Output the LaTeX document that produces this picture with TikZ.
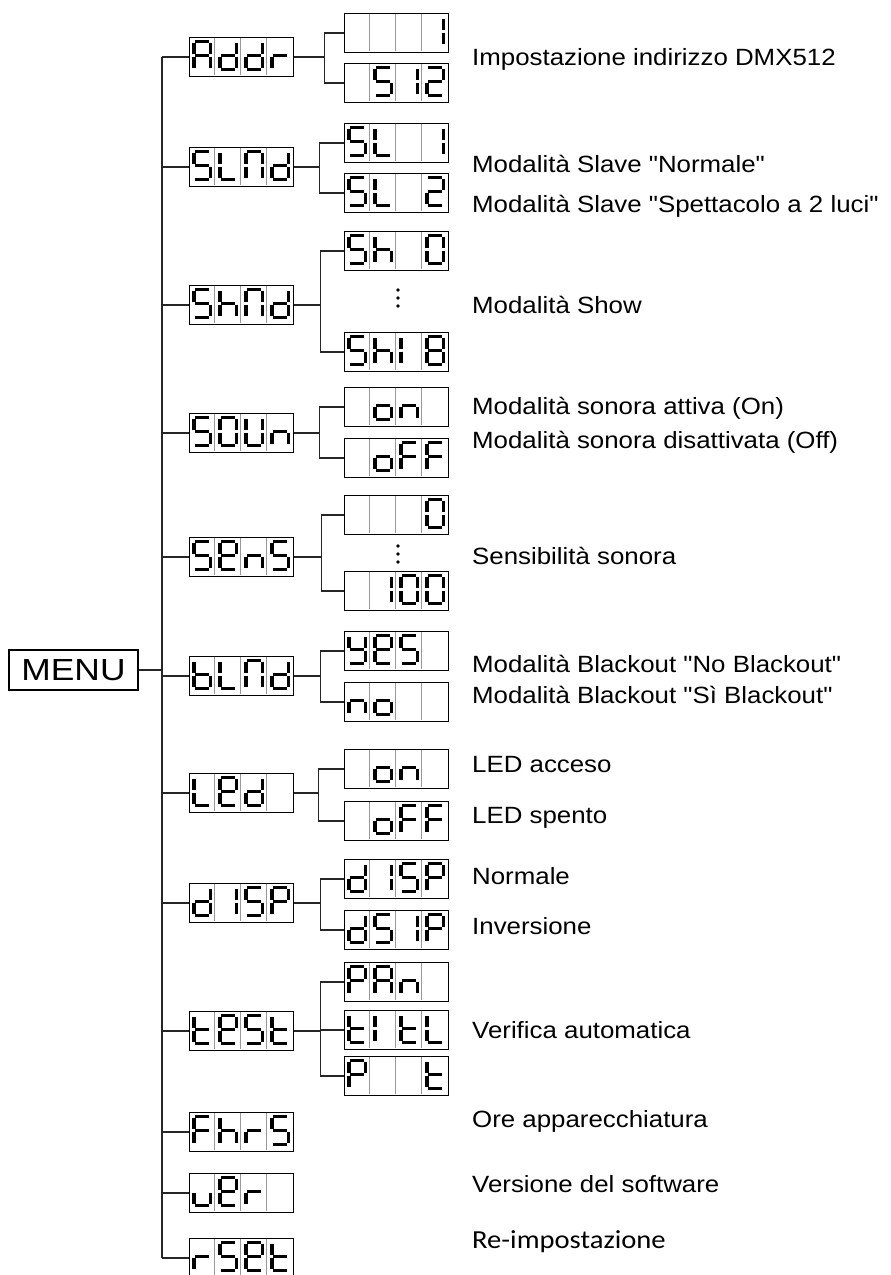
\documentclass[tikz,border=0pt]{standalone}
\usepackage{fontspec}
\setmainfont{Liberation Sans}
\newfontfamily\lblfont[FakeStretch=1.1]{Liberation Sans}
\newfontfamily\lblcfont[FakeStretch=1.1]{Carlito}
\newfontfamily\menufont[FakeStretch=1.16]{Liberation Sans}

\tikzset{
  disp/.style={rectangle, draw=black, line width=1.3pt, minimum width=104pt, minimum height=39pt, inner sep=0pt},
  divl/.style={draw=black!40, line width=0.9pt},
  segl/.style={line width=3.5pt, black, line cap=butt},
  conn/.style={draw=black!85, line width=1.3pt},
  lbl/.style={anchor=base west, inner sep=0pt, font=\lblfont\fontsize{23.5}{28}\selectfont},
  lblc/.style={anchor=base west, inner sep=0pt, font=\lblcfont\fontsize{26}{30}\selectfont},
  dot/.style={fill=black},
}

% seven segment pieces (cell 26 x 39, y downwards)
\newcommand\sga[1]{\draw[segl] ({#1+6.5},4.5) -- ({#1+20},4.5);}
\newcommand\sgb[1]{\draw[segl] ({#1+21.5},6) -- ({#1+21.5},17.2);}
\newcommand\sgc[1]{\draw[segl] ({#1+21.5},19.8) -- ({#1+21.5},31);}
\newcommand\sgd[1]{\draw[segl] ({#1+6.5},32.5) -- ({#1+20},32.5);}
\newcommand\sge[1]{\draw[segl] ({#1+5},19.8) -- ({#1+5},31);}
\newcommand\sgf[1]{\draw[segl] ({#1+5},6) -- ({#1+5},17.2);}
\newcommand\sgg[1]{\draw[segl] ({#1+6.5},18.5) -- ({#1+20},18.5);}
\newcommand\sgz[1]{}

\newcommand\cellglyph[2]{\foreach \s in #2 {\csname sg\s\endcsname{#1}}}
\newcommand\dispcells[5]{%
  \begin{scope}[shift={(#1.north west)}]
    \draw[divl] (26,0.7) -- (26,38.3) (52,0.7) -- (52,38.3) (78,0.7) -- (78,38.3);
    \cellglyph{0}{#2}\cellglyph{26}{#3}\cellglyph{52}{#4}\cellglyph{78}{#5}
  \end{scope}}

\def\Gz{z}
\def\GA{a,b,c,e,f,g}
\def\Gd{b,c,d,e,g}
\def\Gr{e,g}
\def\GS{a,f,g,c,d}
\def\GL{f,e,d}
\def\GN{a,b,c,e,f}
\def\Gh{f,e,g,c}
\def\GO{a,b,c,d,e,f}
\def\Geight{a,b,c,d,e,f,g}
\def\Gi{b,c}
\def\Gj{e,f}
\def\GT{a,b,g,e,d}
\def\Go{c,d,e,g}
\def\Gn{c,e,g}
\def\GF{a,f,g,e}
\def\GU{b,c,d,e,f}
\def\Ge{a,b,d,e,f,g}
\def\Gb{f,e,d,c,g}
\def\Gy{b,c,d,f,g}
\def\GP{a,b,f,g,e}
\def\Gt{f,e,d,g}
\def\Gu{c,d,e}

\begin{document}
\begin{tikzpicture}[x=1pt,y=-1pt]
\useasboundingbox (0,0) rectangle (891,1275);

% MENU
\node[rectangle, draw=black, line width=1.3pt, minimum width=129pt, minimum height=40pt, inner sep=0pt] (menu) at (73.5,670) {\menufont\fontsize{30.5}{31}\selectfont MENU};

% level 1
\node[disp] (addr) at (241.5,57) {};
\node[disp] (slnd) at (241.5,167) {};
\node[disp] (shnd) at (241.5,305) {};
\node[disp] (soun) at (241.5,433) {};
\node[disp] (sens) at (241.5,557) {};
\node[disp] (blnd) at (241.5,676) {};
\node[disp] (led)  at (241.5,793) {};
\node[disp] (disp) at (241.5,903) {};
\node[disp] (test) at (241.5,1031) {};
\node[disp] (fhrs) at (241.5,1132) {};
\node[disp] (uer)  at (241.5,1193) {};
\node[disp] (rset) at (241.5,1258) {};

\dispcells{addr}{\GA}{\Gd}{\Gd}{\Gr}
\dispcells{slnd}{\GS}{\GL}{\GN}{\Gd}
\dispcells{shnd}{\GS}{\Gh}{\GN}{\Gd}
\dispcells{soun}{\GS}{\GO}{\GU}{\Gn}
\dispcells{sens}{\GS}{\Ge}{\Gn}{\GS}
\dispcells{blnd}{\Gb}{\GL}{\GN}{\Gd}
\dispcells{led}{\GL}{\Ge}{\Gd}{\Gz}
\dispcells{disp}{\Gd}{\Gi}{\GS}{\GP}
\dispcells{test}{\Gt}{\Ge}{\GS}{\Gt}
\dispcells{fhrs}{\GF}{\Gh}{\Gr}{\GS}
\dispcells{uer}{\Gu}{\Ge}{\Gr}{\Gz}
\dispcells{rset}{\Gr}{\GS}{\Ge}{\Gt}

% level 2
\node[disp] (addr1) at (396.5,33) {};
\node[disp] (addr2) at (396.5,83) {};
\node[disp] (sl1)   at (396.5,143) {};
\node[disp] (sl2)   at (396.5,193) {};
\node[disp] (sh0)   at (396.5,251) {};
\node[disp] (sh8)   at (396.5,352) {};
\node[disp] (son)   at (396.5,407) {};
\node[disp] (soff)  at (396.5,458) {};
\node[disp] (sz)    at (396.5,515) {};
\node[disp] (shun)  at (396.5,591) {};
\node[disp] (byes)  at (396.5,651) {};
\node[disp] (bno)   at (396.5,702) {};
\node[disp] (lon)   at (396.5,769) {};
\node[disp] (loff)  at (396.5,821) {};
\node[disp] (dnorm) at (396.5,879) {};
\node[disp] (dinv)  at (396.5,930) {};
\node[disp] (pan)   at (396.5,982) {};
\node[disp] (titl)  at (396.5,1030) {};
\node[disp] (pt)    at (396.5,1076) {};

\dispcells{addr1}{\Gz}{\Gz}{\Gz}{\Gi}
\dispcells{addr2}{\Gz}{\GS}{\Gi}{\GT}
\dispcells{sl1}{\GS}{\GL}{\Gz}{\Gi}
\dispcells{sl2}{\GS}{\GL}{\Gz}{\GT}
\dispcells{sh0}{\GS}{\Gh}{\Gz}{\GO}
\dispcells{sh8}{\GS}{\Gh}{\Gj}{\Geight}
\dispcells{son}{\Gz}{\Go}{\Gn}{\Gz}
\dispcells{soff}{\Gz}{\Go}{\GF}{\GF}
\dispcells{sz}{\Gz}{\Gz}{\Gz}{\GO}
\dispcells{shun}{\Gz}{\Gi}{\GO}{\GO}
\dispcells{byes}{\Gy}{\Ge}{\GS}{\Gz}
\dispcells{bno}{\Gn}{\Go}{\Gz}{\Gz}
\dispcells{lon}{\Gz}{\Go}{\Gn}{\Gz}
\dispcells{loff}{\Gz}{\Go}{\GF}{\GF}
\dispcells{dnorm}{\Gd}{\Gi}{\GS}{\GP}
\dispcells{dinv}{\Gd}{\GS}{\Gi}{\GP}
\dispcells{pan}{\GP}{\GA}{\Gn}{\Gz}
\dispcells{titl}{\Gt}{\Gj}{\Gt}{\GL}
\dispcells{pt}{\GP}{\Gz}{\Gz}{\Gt}

% vertical dots
\fill[dot] (398,290) circle (1.8) (398,298) circle (1.8) (398,306) circle (1.8);
\fill[dot] (398,546) circle (1.8) (398,554) circle (1.8) (398,562) circle (1.8);

% trunk
\coordinate (trunk) at (162,0);
\draw[conn] (menu.east) -- (trunk |- menu.east);
\draw[conn] (trunk |- addr.west) -- (trunk |- rset.west);
\foreach \n in {addr,slnd,shnd,soun,sens,blnd,led,disp,test,fhrs,uer,rset}
  \draw[conn] (trunk |- \n.west) -- (\n.west);

% branches
\draw[conn] (addr.east) -- ++(30.5,0) |- (addr1.west);
\draw[conn] (addr.east) ++(30.5,0) |- (addr2.west);
\draw[conn] (slnd.east) -- ++(25.5,0) |- (sl1.west);
\draw[conn] (slnd.east) ++(25.5,0) |- (sl2.west);
\draw[conn] (shnd.east) -- ++(26.5,0) |- (sh0.west);
\draw[conn] (shnd.east) ++(26.5,0) |- (sh8.west);
\draw[conn] (soun.east) -- ++(25.5,0) |- (son.west);
\draw[conn] (soun.east) ++(25.5,0) |- (soff.west);
\draw[conn] (sens.east) -- ++(27.5,0) |- (sz.west);
\draw[conn] (sens.east) ++(27.5,0) |- (shun.west);
\draw[conn] (blnd.east) -- ++(26.5,0) |- (byes.west);
\draw[conn] (blnd.east) ++(26.5,0) |- (bno.west);
\draw[conn] (led.east) -- ++(24.5,0) |- (lon.west);
\draw[conn] (led.east) ++(24.5,0) |- (loff.west);
\draw[conn] (disp.east) -- ++(26.5,0) |- (dnorm.west);
\draw[conn] (disp.east) ++(26.5,0) |- (dinv.west);
\draw[conn] (test.east) -- ++(26.5,0) |- (pan.west);
\draw[conn] (test.east) ++(26.5,0) |- (titl.west);
\draw[conn] (test.east) ++(26.5,0) |- (pt.west);

% labels
\node[lbl] (l1)  at (472,65)   {Impostazione indirizzo DMX512};
\node[lbl] (l2)  at (472,172)  {Modalità Slave "Normale"};
\node[lbl] (l3)  at (472,212)  {Modalità Slave "Spettacolo a 2 luci"};
\node[lbl] (l4)  at (472,313)  {Modalità Show};
\node[lbl] (l5)  at (472,414)  {Modalità sonora attiva (On)};
\node[lbl] (l6)  at (472,448)  {Modalità sonora disattivata (Off)};
\node[lbl] (l7)  at (472,564)  {Sensibilità sonora};
\node[lbl] (l8)  at (472,672)  {Modalità Blackout "No Blackout"};
\node[lbl] (l9)  at (472,703)  {Modalità Blackout "Sì Blackout"};
\node[lbl] (l10) at (472,772)  {LED acceso};
\node[lbl] (l11) at (472,823)  {LED spento};
\node[lbl] (l12) at (472,884)  {Normale};
\node[lbl] (l13) at (472,934)  {Inversione};
\node[lbl] (l14) at (472,1038) {Verifica automatica};
\node[lbl] (l15) at (472,1127) {Ore apparecchiatura};
\node[lbl] (l16) at (472,1192) {Versione del software};
\node[lblc] (l17) at (472,1248) {Re-impostazione};
\end{tikzpicture}
\end{document}
